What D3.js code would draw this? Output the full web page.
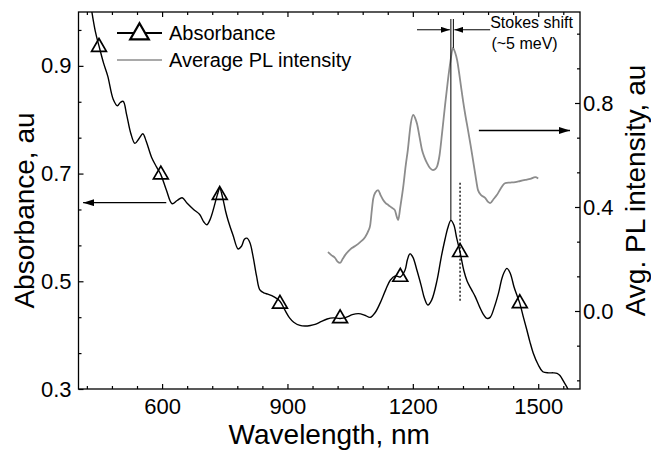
<!DOCTYPE html>
<html>
<head>
<meta charset="utf-8">
<script src="https://cdn.jsdelivr.net/npm/d3@7"></script>
<style>
  body { margin: 0; background: #fff; }
  svg { display: block; font-family: "Liberation Sans", Arial, sans-serif; }
</style>
</head>
<body>
<svg id="chart" width="651" height="453"></svg>
<script>
// DATA SECTION

// absorbance spectrum, wavelength (nm) / absorbance (au)
const absNm = [430, 440, 449, 460, 470, 483, 493, 500, 507, 515, 525, 535, 545, 554, 562, 575, 587, 597,
  610, 624, 636, 648, 660, 676, 690, 700, 707, 715, 725, 732, 738, 745, 752, 758, 770, 782, 790, 797, 803,
  810, 818, 826, 834, 845, 853, 868, 882, 895, 905, 915, 930, 942, 955, 966, 980, 995, 1010, 1026, 1040,
  1055, 1070, 1085, 1098, 1110, 1122, 1135, 1146, 1158, 1170, 1181, 1187, 1193, 1200, 1210, 1220, 1228,
  1236, 1245, 1258, 1268, 1277, 1284, 1291, 1298, 1305, 1313, 1322, 1330, 1340, 1349, 1360, 1370, 1377,
  1385, 1395, 1405, 1415, 1425, 1433, 1442, 1450, 1456, 1465, 1473, 1480, 1488, 1500, 1511, 1525, 1536,
  1545, 1552, 1560, 1569, 1575];
const absVal = [1.01, 0.965, 0.937, 0.905, 0.881, 0.838, 0.826, 0.832, 0.834, 0.81, 0.775, 0.756, 0.765, 0.774, 0.76, 0.73, 0.712, 0.698,
  0.67, 0.644, 0.65, 0.655, 0.645, 0.633, 0.624, 0.61, 0.605, 0.615, 0.64, 0.66, 0.672, 0.655, 0.63, 0.613, 0.585, 0.56, 0.565, 0.578, 0.58,
  0.572, 0.545, 0.51, 0.484, 0.478, 0.476, 0.471, 0.463, 0.445, 0.432, 0.424, 0.418, 0.417, 0.418, 0.42, 0.425, 0.43, 0.432, 0.431, 0.433,
  0.438, 0.44, 0.437, 0.433, 0.442, 0.46, 0.484, 0.502, 0.51, 0.508, 0.52, 0.54, 0.551, 0.545, 0.52, 0.492, 0.468,
  0.456, 0.465, 0.502, 0.545, 0.578, 0.6, 0.613, 0.605, 0.58, 0.554, 0.52, 0.5, 0.485, 0.472, 0.452, 0.437, 0.431,
  0.433, 0.452, 0.478, 0.51, 0.524, 0.515, 0.49, 0.472, 0.459, 0.432, 0.409, 0.388, 0.367, 0.345, 0.332, 0.33, 0.33,
  0.329, 0.325, 0.315, 0.303, 0.292];

// triangle symbols on the absorbance curve
const markNm = [449, 597, 738, 882, 1026, 1170, 1313, 1456];
const markVal = [0.935, 0.698, 0.66, 0.458, 0.431, 0.508, 0.554, 0.459];

// averaged PL spectrum, wavelength (nm) / intensity (au)
const plNm = [997, 1005, 1014, 1020, 1026, 1032, 1038, 1046, 1054, 1062, 1074, 1086, 1094, 1098, 1102, 1105,
  1110, 1117, 1123, 1129, 1135, 1141, 1149, 1157, 1162, 1165, 1170, 1177, 1183, 1188, 1195, 1201, 1206, 1210,
  1216, 1222, 1228, 1234, 1241, 1248, 1253, 1258, 1264, 1270, 1277, 1284, 1290, 1296, 1301, 1306, 1313, 1320,
  1326, 1332, 1338, 1344, 1350, 1356, 1364, 1373, 1380, 1385, 1393, 1401, 1410, 1421, 1433, 1445, 1457, 1469,
  1481, 1493, 1500];
const plVal = [0.227, 0.215, 0.204, 0.19, 0.185, 0.2, 0.215, 0.23, 0.242, 0.25, 0.265, 0.285, 0.31, 0.33, 0.39, 0.43,
  0.455, 0.465, 0.445, 0.427, 0.415, 0.408, 0.398, 0.388, 0.36, 0.35, 0.4, 0.477, 0.56, 0.619, 0.72, 0.754, 0.74, 0.72,
  0.67, 0.619, 0.59, 0.569, 0.55, 0.542, 0.545, 0.556, 0.6, 0.685, 0.79, 0.888, 0.96, 1.012, 0.995, 0.965, 0.89, 0.81,
  0.75, 0.696, 0.64, 0.58, 0.52, 0.465, 0.445, 0.435, 0.42, 0.415, 0.43, 0.446, 0.47, 0.492, 0.494, 0.496, 0.5, 0.504,
  0.508, 0.515, 0.51];

// tick labels
const xTicks = [600, 900, 1200, 1500];
const yLeftTicks = [0.3, 0.5, 0.7, 0.9];
const yRightTicks = [0.0, 0.4, 0.8];

// annotations (data units)
const absPeakNm = 1291, absPeakVal = 0.613;
const plPeakNm = 1297, plPeakVal = 1.012;
const dottedNm = 1313, dottedTop = 0.683, dottedBottom = 0.461;

// INITIALIZE SECTION

const svg = d3.select('#chart');
const m = {left: 78.5, right: 580, top: 12, bottom: 389};

const x = d3.scaleLinear().domain([400, 1600]).range([m.left, m.right]);
const yL = d3.scaleLinear().domain([0.3, 1.0]).range([m.bottom, m.top]);
const yR = d3.scaleLinear().domain([-0.3, 1.15]).range([m.bottom, m.top]);

const xMinor = d3.range(420, 1600, 60).filter(v => !xTicks.includes(v));
const yLMinor = d3.range(0, 11).map(k => 0.3 + k * 0.2 / 3).filter((v, k) => k % 3 !== 0);
const yRMinor = d3.range(-2, 9).map(k => k * 0.4 / 3).filter((v, k) => (k + 1) % 3 !== 0);

svg.append('defs').append('clipPath')
  .attr('id', 'clip')
  .append('rect')
  .attr('x', m.left).attr('y', m.top)
  .attr('width', m.right - m.left).attr('height', m.bottom - m.top);

function arrowDef(id, w, h) {
  svg.select('defs').append('marker')
    .attr('id', id)
    .attr('viewBox', `0 0 ${w} ${h}`)
    .attr('refX', w).attr('refY', h / 2)
    .attr('markerWidth', w).attr('markerHeight', h)
    .attr('markerUnits', 'userSpaceOnUse')
    .attr('orient', 'auto')
    .append('path')
    .attr('d', `M0,0 L${w},${h / 2} L0,${h} Z`)
    .attr('fill', '#000');
}
arrowDef('arrowBig', 11, 7);
arrowDef('arrowSmall', 9, 6);

// AXES SECTION

function styleAxis(g, size) {
  g.select('.domain').remove();
  g.selectAll('.tick line').attr('stroke', '#000').attr('stroke-width', 1.2);
  g.selectAll('.tick text')
    .attr('fill', '#000')
    .attr('font-size', size)
    .attr('font-family', '"Liberation Sans", Arial, sans-serif');
}

// bottom
svg.append('g')
  .attr('transform', `translate(0,${m.bottom})`)
  .call(d3.axisBottom(x).tickValues(xTicks).tickSize(-5).tickPadding(9).tickFormat(d3.format('d')))
  .call(g => styleAxis(g, 22));
svg.append('g')
  .attr('transform', `translate(0,${m.bottom})`)
  .call(d3.axisBottom(x).tickValues(xMinor).tickSize(-3).tickFormat(''))
  .call(g => styleAxis(g, 22));
// top mirror
svg.append('g')
  .attr('transform', `translate(0,${m.top})`)
  .call(d3.axisTop(x).tickValues(xTicks).tickSize(-5).tickFormat(''))
  .call(g => styleAxis(g, 22));
svg.append('g')
  .attr('transform', `translate(0,${m.top})`)
  .call(d3.axisTop(x).tickValues(xMinor).tickSize(-3).tickFormat(''))
  .call(g => styleAxis(g, 22));
// left
svg.append('g')
  .attr('transform', `translate(${m.left},0)`)
  .call(d3.axisLeft(yL).tickValues(yLeftTicks).tickSize(-5).tickPadding(7).tickFormat(d3.format('.1f')))
  .call(g => styleAxis(g, 22));
svg.append('g')
  .attr('transform', `translate(${m.left},0)`)
  .call(d3.axisLeft(yL).tickValues(yLMinor).tickSize(-3).tickFormat(''))
  .call(g => styleAxis(g, 22));
// right
svg.append('g')
  .attr('transform', `translate(${m.right},0)`)
  .call(d3.axisRight(yR).tickValues(yRightTicks).tickSize(-5).tickPadding(3).tickFormat(d3.format('.1f')))
  .call(g => styleAxis(g, 22));
svg.append('g')
  .attr('transform', `translate(${m.right},0)`)
  .call(d3.axisRight(yR).tickValues(yRMinor).tickSize(-3).tickFormat(''))
  .call(g => styleAxis(g, 22));

// frame
svg.append('rect')
  .attr('x', m.left).attr('y', m.top)
  .attr('width', m.right - m.left).attr('height', m.bottom - m.top)
  .attr('fill', 'none').attr('stroke', '#000').attr('stroke-width', 1.3);

// axis titles
svg.append('text')
  .attr('x', (m.left + m.right) / 2).attr('y', 444)
  .attr('text-anchor', 'middle').attr('font-size', 28)
  .text('Wavelength, nm');
svg.append('text')
  .attr('transform', `translate(34,${(m.top + m.bottom) / 2 + 10}) rotate(-90)`)
  .attr('text-anchor', 'middle').attr('font-size', 28)
  .text('Absorbance, au');
svg.append('text')
  .attr('transform', `translate(645,${(m.top + m.bottom) / 2 - 10}) rotate(-90)`)
  .attr('text-anchor', 'middle').attr('font-size', 28)
  .text('Avg. PL intensity, au');

// RENDER SECTION

const plot = svg.append('g').attr('clip-path', 'url(#clip)');

const absData = absNm.map((d, i) => ({nm: d, v: absVal[i]}));
const plData = plNm.map((d, i) => ({nm: d, v: plVal[i]}));
const markData = markNm.map((d, i) => ({nm: d, v: markVal[i]}));

plot.append('path')
  .datum(plData)
  .attr('fill', 'none')
  .attr('stroke', '#8c8c8c')
  .attr('stroke-width', 1.8)
  .attr('d', d3.line().x(d => x(d.nm)).y(d => yR(d.v)).curve(d3.curveMonotoneX));

plot.append('path')
  .datum(absData)
  .attr('fill', 'none')
  .attr('stroke', '#000')
  .attr('stroke-width', 1.4)
  .attr('d', d3.line().x(d => x(d.nm)).y(d => yL(d.v)).curve(d3.curveCatmullRom.alpha(0.5)));

const tri = d3.symbol().type(d3.symbolTriangle).size(95);
plot.selectAll('path.mark')
  .data(markData)
  .enter().append('path')
  .attr('class', 'mark')
  .attr('transform', d => `translate(${x(d.nm)},${yL(d.v)})`)
  .attr('d', tri)
  .attr('fill', 'none')
  .attr('stroke', '#000')
  .attr('stroke-width', 1.7);

// Stokes shift annotation
const yTopLine = yL(0.987);
svg.append('line')
  .attr('x1', x(absPeakNm)).attr('x2', x(absPeakNm))
  .attr('y1', yTopLine).attr('y2', yL(absPeakVal))
  .attr('stroke', '#000').attr('stroke-width', 1);
svg.append('line')
  .attr('x1', x(plPeakNm)).attr('x2', x(plPeakNm))
  .attr('y1', yTopLine).attr('y2', yR(plPeakVal))
  .attr('stroke', '#000').attr('stroke-width', 1);
svg.append('line')
  .attr('x1', x(dottedNm)).attr('x2', x(dottedNm))
  .attr('y1', yL(dottedTop)).attr('y2', yL(dottedBottom))
  .attr('stroke', '#000').attr('stroke-width', 1.3)
  .attr('stroke-dasharray', '2,2');

const yArrow = yL(0.967);
svg.append('line')
  .attr('x1', x(1210)).attr('x2', x(absPeakNm) - 1)
  .attr('y1', yArrow).attr('y2', yArrow)
  .attr('stroke', '#000').attr('stroke-width', 1)
  .attr('marker-end', 'url(#arrowSmall)');
svg.append('line')
  .attr('x1', x(1385)).attr('x2', x(plPeakNm) + 1)
  .attr('y1', yArrow).attr('y2', yArrow)
  .attr('stroke', '#000').attr('stroke-width', 1)
  .attr('marker-end', 'url(#arrowSmall)');

svg.append('text')
  .attr('x', x(1385)).attr('y', 28)
  .attr('font-size', 16)
  .text('Stokes shift');
svg.append('text')
  .attr('x', x(1388)).attr('y', 49)
  .attr('font-size', 16)
  .text('(~5 meV)');

// axis arrows
svg.append('line')
  .attr('x1', x(610)).attr('x2', x(411))
  .attr('y1', yL(0.646)).attr('y2', yL(0.646))
  .attr('stroke', '#000').attr('stroke-width', 1.3)
  .attr('marker-end', 'url(#arrowBig)');
svg.append('line')
  .attr('x1', x(1358)).attr('x2', x(1576))
  .attr('y1', yL(0.78)).attr('y2', yL(0.78))
  .attr('stroke', '#000').attr('stroke-width', 1.3)
  .attr('marker-end', 'url(#arrowBig)');

// legend
const lg = svg.append('g');
lg.append('line')
  .attr('x1', 117).attr('x2', 162).attr('y1', 33).attr('y2', 33)
  .attr('stroke', '#000').attr('stroke-width', 1.8);
lg.append('path')
  .attr('transform', 'translate(139.5,34)')
  .attr('d', d3.symbol().type(d3.symbolTriangle).size(150))
  .attr('fill', '#fff')
  .attr('stroke', '#000')
  .attr('stroke-width', 2.2);
lg.append('text')
  .attr('x', 169).attr('y', 40)
  .attr('font-size', 20)
  .text('Absorbance');
lg.append('line')
  .attr('x1', 117).attr('x2', 162).attr('y1', 60).attr('y2', 60)
  .attr('stroke', '#8c8c8c').attr('stroke-width', 1.5);
lg.append('text')
  .attr('x', 169).attr('y', 67)
  .attr('font-size', 20)
  .text('Average PL intensity');
</script>
</body>
</html>
